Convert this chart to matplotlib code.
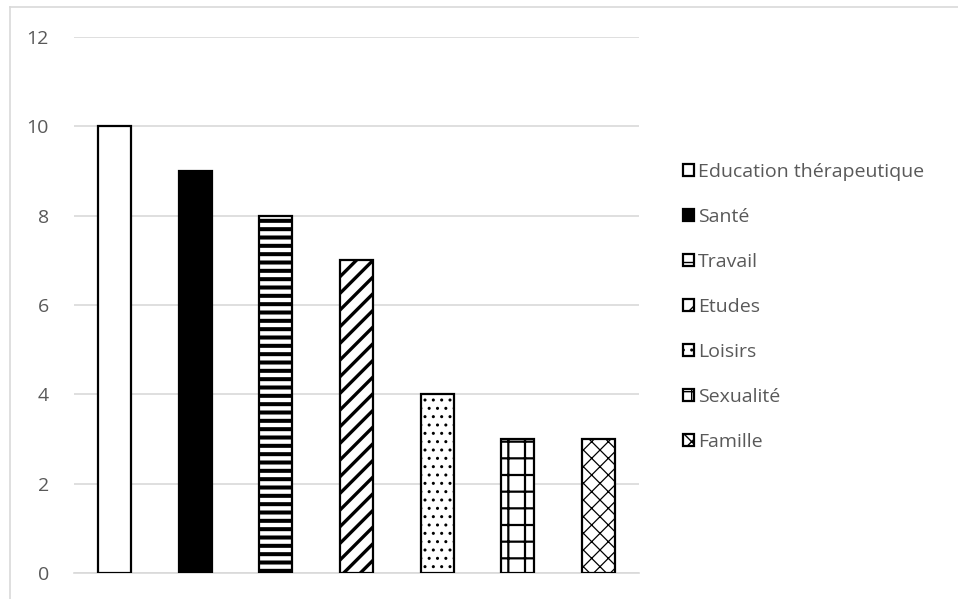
import matplotlib
matplotlib.use("Agg")
import matplotlib.pyplot as plt
import numpy as np
from matplotlib.lines import Line2D

categories = ["Education thérapeutique", "Santé", "Travail", "Etudes",
              "Loisirs", "Sexualité", "Famille"]
values = [10, 9, 8, 7, 4, 3, 3]
yticks = [0, 2, 4, 6, 8, 10, 12]

fills = ["white", "black", "white", "white", "white", "white", "white"]
hatches = [None, None, "--", "//", "..", "+", "xx"]
hatch_lw = [1.0, 1.0, 2.9, 2.4, 1.0, 1.6, 0.9]

plt.rcParams['font.family'] = ['Open Sans', 'DejaVu Sans']
TXT = "#595959"
GRID = "#d9d9d9"

fig = plt.figure(figsize=(9.58, 5.99), dpi=100)
ax = fig.add_axes([74/958, 1-573/599, (639-74)/958, (573-37)/599])

x = np.arange(len(categories))
for i in range(len(categories)):
    with plt.rc_context({'hatch.linewidth': hatch_lw[i], 'hatch.color': 'black'}):
        b = ax.bar(x[i], values[i], width=0.41, color=fills[i], edgecolor='black',
                   linewidth=1.6, hatch=hatches[i], label=categories[i], zorder=3)
        for p in b.patches:
            if hasattr(p, 'set_hatch_linewidth'):
                p.set_hatch_linewidth(hatch_lw[i])

ax.set_xlim(-0.5, len(categories) - 0.5)
ax.set_ylim(0, 12)
ax.set_yticks(yticks)
ax.set_yticklabels([str(t) for t in yticks], color=TXT, fontsize=14)
ax.set_xticks([])
ax.tick_params(axis='y', length=0, pad=18)
ax.yaxis.grid(True, color=GRID, linewidth=1.2, zorder=0)
ax.set_axisbelow(True)
for s in ['top', 'right', 'left']:
    ax.spines[s].set_visible(False)
ax.spines['bottom'].set_color(GRID)
ax.spines['bottom'].set_linewidth(1.2)

leg = fig.legend(loc='upper left', bbox_to_anchor=(675/958, 1-155/599),
                 frameon=False, fontsize=14, labelcolor=TXT,
                 handlelength=0.6, handleheight=0.6, handletextpad=0.2,
                 labelspacing=1.39, borderaxespad=0)

# chart border (left and top visible)
fig.add_artist(Line2D([10/958, 10/958], [0, 1-7/599], color=GRID, lw=1.2,
                      transform=fig.transFigure))
fig.add_artist(Line2D([10/958, 1], [1-7/599, 1-7/599], color=GRID, lw=1.2,
                      transform=fig.transFigure))

fig.savefig("out.png", dpi=100)
